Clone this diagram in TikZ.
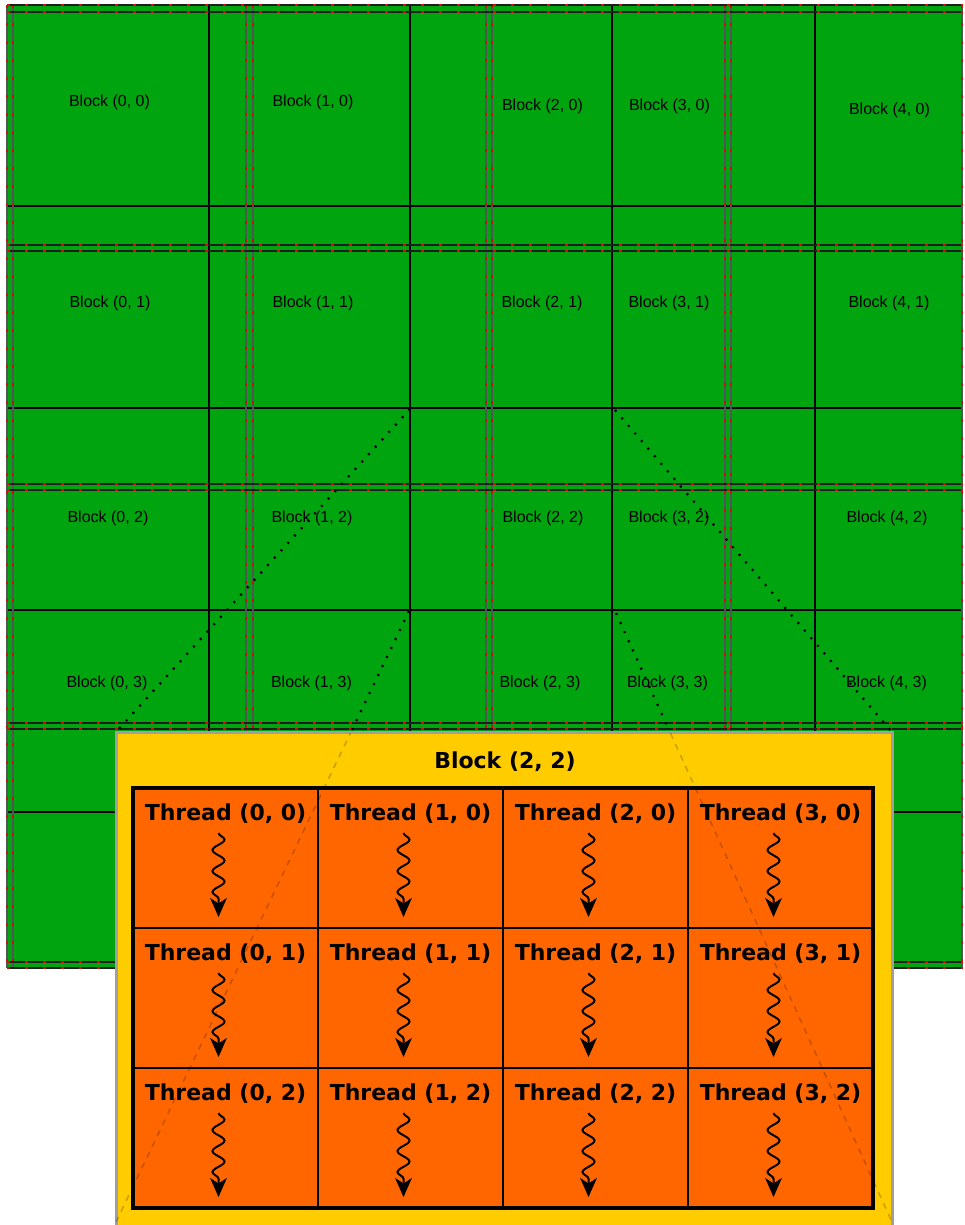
\documentclass[tikz,border=0pt]{standalone}
\usepackage{fontspec}
\setmainfont{Liberation Sans}
\newfontfamily\thrfont{DejaVu Sans}
\usetikzlibrary{arrows.meta,decorations.pathmorphing}
\definecolor{gridgreen}{RGB}{0,164,14}
\definecolor{boxyellow}{RGB}{255,204,0}
\definecolor{cellorange}{RGB}{255,102,0}
\definecolor{vgray}{RGB}{85,85,85}
\definecolor{hgray}{RGB}{30,30,30}
\definecolor{dashred}{RGB}{240,0,0}
\begin{document}
\begin{tikzpicture}[x=1pt,y=-1pt,
  blocklabel/.style={font=\fontsize{16}{18}\selectfont, inner sep=0pt},
  blackline/.style={line width=2pt, black},
  vdbl/.style={line width=1.6pt, vgray},
  hdbl/.style={line width=1.8pt, hgray},
  reddash/.style={line width=1.6pt, dashred, dash pattern=on 3pt off 15pt},
  zoomdots/.style={line width=2.3pt, black, dash pattern=on 2pt off 8pt},
  zoomfaint/.style={line width=1.5pt, black, opacity=0.22, dash pattern=on 6pt off 6pt},
  cell/.style={draw=black, line width=2pt, fill=cellorange, minimum width=185pt, minimum height=140pt, inner sep=0pt, outer sep=0pt},
  thrtext/.style={font=\thrfont\bfseries\fontsize{22}{24}\selectfont, inner sep=0pt},
  wavy/.style={line width=2pt, decorate, decoration={snake, amplitude=6pt, segment length=21pt, post length=4pt}},
  wavytip/.style={fill=black, draw=black, line width=0.8pt, line join=miter}
]
\useasboundingbox (0,0) rectangle (965,1225);
% green grid area
\fill[gridgreen] (7,5) rectangle (963,968);
% black grid
\foreach \x in {209,410,612,815} \draw[blackline] (\x,5) -- (\x,968);
\foreach \y in {206,408,610,812} \draw[blackline] (7,\y) -- (963,\y);
% double dashed grid
\foreach \x in {7,13,246,253,486,492,725,731,962} {
  \draw[vdbl] (\x,5) -- (\x,968);
  \draw[reddash] (\x,5) -- (\x,968);
}
\foreach \y in {5,12,245,251,484,490,723,729,962,968} {
  \draw[hdbl] (7,\y) -- (963,\y);
  \draw[reddash] (7,\y) -- (963,\y);
}
% block labels
\foreach \i/\x/\y in {0/109.5/102, 1/313/102, 2/542.5/106, 3/669.5/106, 4/889.5/110}
  \node[blocklabel] (b\i0) at (\x,\y) {Block (\i, 0)};
\foreach \i/\x in {0/110, 1/313, 2/542, 3/669, 4/889}
  \node[blocklabel] (b\i1) at (\x,303) {Block (\i, 1)};
\foreach \i/\x in {0/108, 1/312, 2/543, 3/669, 4/887}
  \node[blocklabel] (b\i2) at (\x,518) {Block (\i, 2)};
\foreach \i/\x in {0/107, 1/311.5, 2/540, 3/667.5, 4/886.5}
  \node[blocklabel] (b\i3) at (\x,683) {Block (\i, 3)};
% zoom connectors
\coordinate (s1) at (410,409);
\coordinate (s2) at (409,611);
\coordinate (s3) at (615,410);
\coordinate (s4) at (616,613);
\coordinate (ytl) at (116,732);
\coordinate (ytr) at (892,732);
\coordinate (ybl) at (116,1222);
\coordinate (ybr) at (892,1222);
\draw[zoomdots] (s1) -- (ytl);
\draw[zoomdots] (s3) -- (ytr);
\draw[zoomdots] (s2) -- (ybl);
\draw[zoomdots] (s4) -- (ybr);
% block (2,2) box
\fill[boxyellow] (116,732) rectangle (892,1230);
\draw[gray!75, line width=3pt] (116,1230) -- (ytl) -- (ytr) -- (892,1230);
\node[thrtext] (title) at (505,762) {Block (2, 2)};
\foreach \i in {0,1,2,3} {
  \foreach \j in {0,1,2} {
    \node[cell] (c\i\j) at ({225.5+185*\i},{858+140*\j}) {};
    \node[thrtext] (t\i\j) at ({225.5+185*\i},{814+140*\j}) {Thread (\i, \j)};
    \coordinate (wa\i\j) at ({218.5+185*\i},{833+140*\j});
    \coordinate (wm\i\j) at ({218.5+185*\i},{905+140*\j});
    \coordinate (wb\i\j) at ({218.5+185*\i},{916+140*\j});
    \draw[wavy] (wa\i\j) -- (wm\i\j);
    \draw[wavytip] (wb\i\j) -- ++(-7.5,-17) -- ++(7.5,5) -- ++(7.5,-5) -- cycle;
  }
}
\draw[line width=3.5pt] (133,788) rectangle (873,1208);
% faint continuation of connectors over the box
\begin{scope}
  \clip (116,733) rectangle (892,1230);
  \draw[zoomfaint] (s2) -- (ybl);
  \draw[zoomfaint] (s4) -- (ybr);
\end{scope}
\end{tikzpicture}
\end{document}
